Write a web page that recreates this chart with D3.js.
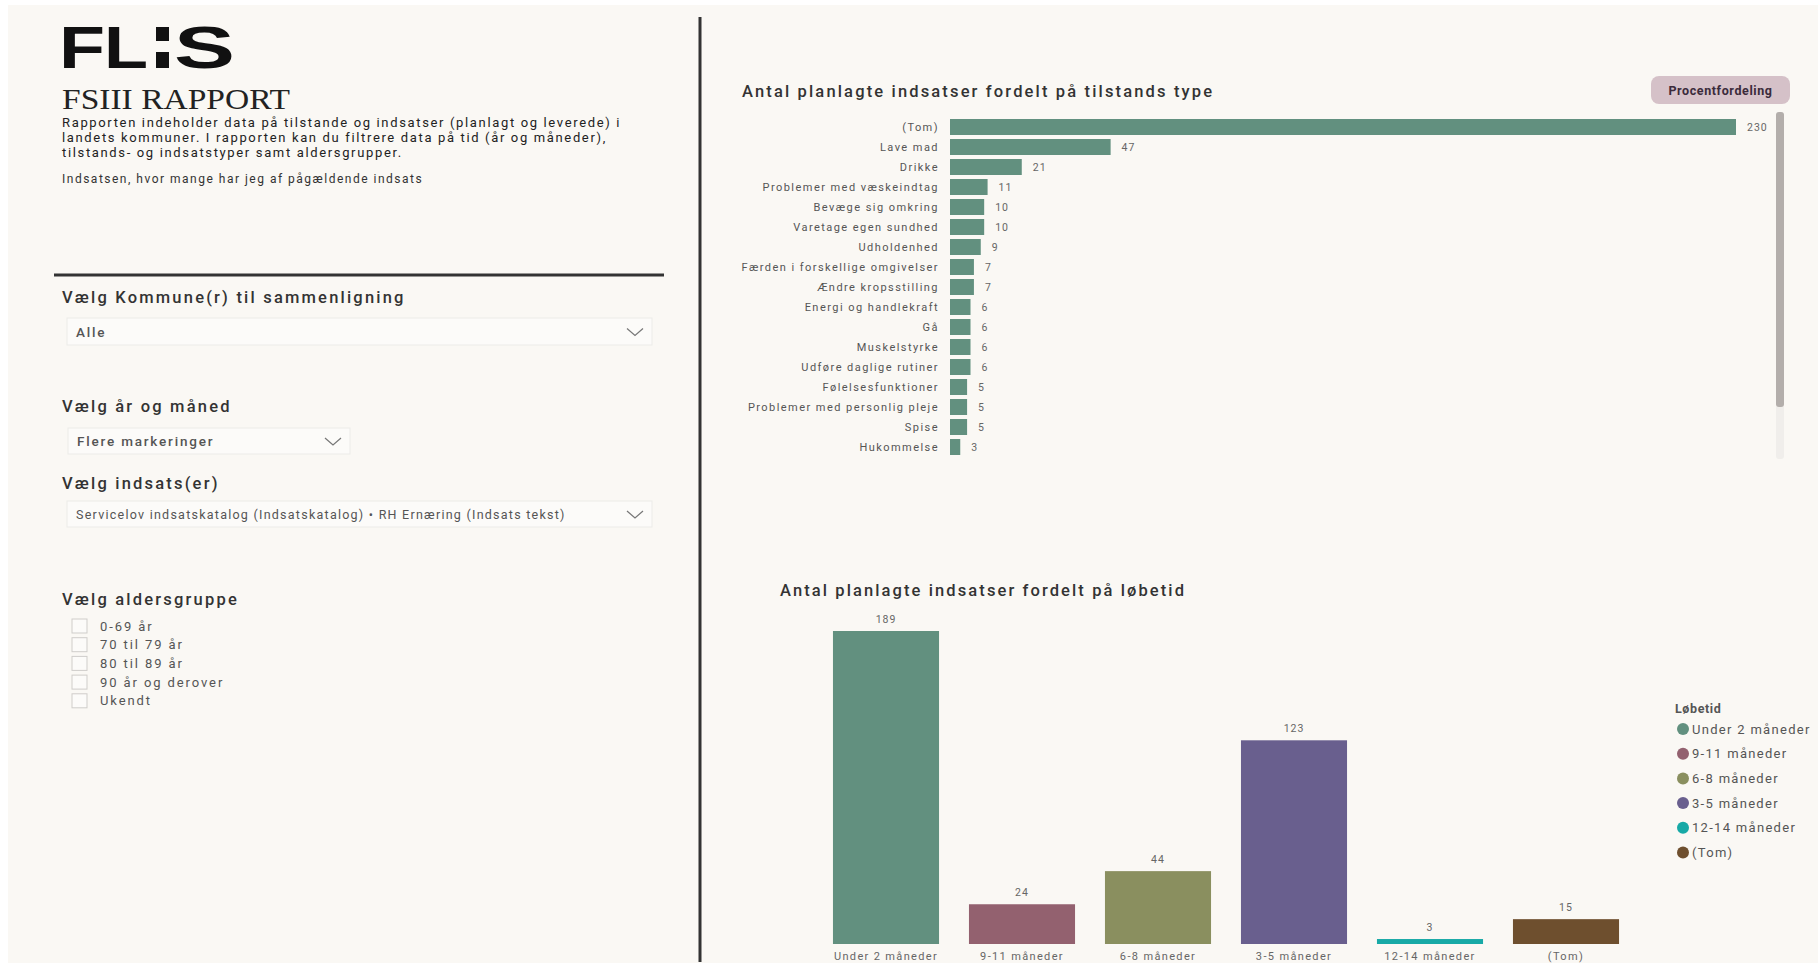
<!DOCTYPE html>
<html lang="da">
<head>
<meta charset="utf-8">
<script src="https://cdn.jsdelivr.net/npm/d3@7"></script>
<style>
  html, body { margin: 0; padding: 0; background: #ffffff; }
  svg { display: block; font-family: Roboto, "Open Sans", sans-serif; }
</style>
</head>
<body>
<svg id="page" width="1818" height="966"></svg>
<script>
// ---- Data -------------------------------------------------------------
const tilstandCategories = [
  "(Tom)", "Lave mad", "Drikke", "Problemer med væskeindtag", "Bevæge sig omkring",
  "Varetage egen sundhed", "Udholdenhed", "Færden i forskellige omgivelser",
  "Ændre kropsstilling", "Energi og handlekraft", "Gå", "Muskelstyrke",
  "Udføre daglige rutiner", "Følelsesfunktioner", "Problemer med personlig pleje",
  "Spise", "Hukommelse"
];
const tilstandValues = [230, 47, 21, 11, 10, 10, 9, 7, 7, 6, 6, 6, 6, 5, 5, 5, 3];

const loebetidCategories = ["Under 2 måneder", "9-11 måneder", "6-8 måneder", "3-5 måneder", "12-14 måneder", "(Tom)"];
const loebetidValues = [189, 24, 44, 123, 3, 15];
const loebetidColors = ["#62907f", "#93616f", "#8a8f5f", "#695f8e", "#17a9a6", "#6e4f2e"];

const ageGroups = ["0-69 år", "70 til 79 år", "80 til 89 år", "90 år og derover", "Ukendt"];

const introLines = [
  "Rapporten indeholder data på tilstande og indsatser (planlagt og leverede) i",
  "landets kommuner. I rapporten kan du filtrere data på tid (år og måneder),",
  "tilstands- og indsatstyper samt aldersgrupper."
];

// ---- Page frame -------------------------------------------------------
const svg = d3.select("#page");
svg.append("rect").attr("x", 8).attr("y", 5).attr("width", 1810).attr("height", 958)
  .attr("fill", "#faf8f4");

// vertical divider and left horizontal rule
svg.append("line").attr("x1", 700).attr("x2", 700).attr("y1", 17).attr("y2", 962)
  .attr("stroke", "#333").attr("stroke-width", 3);
svg.append("line").attr("x1", 54).attr("x2", 664).attr("y1", 275).attr("y2", 275)
  .attr("stroke", "#333").attr("stroke-width", 3);

// ---- Left panel -------------------------------------------------------
const logo = svg.append("g").attr("fill", "#111")
  .style("font-family", "'Liberation Sans', Arial, sans-serif").style("font-weight", 700);
logo.append("text").attr("x", 59).attr("y", 68).text("F")
  .attr("font-size", 60).attr("textLength", 46).attr("lengthAdjust", "spacingAndGlyphs");
logo.append("text").attr("x", 104).attr("y", 68).text("L")
  .attr("font-size", 60).attr("textLength", 44).attr("lengthAdjust", "spacingAndGlyphs");
logo.append("rect").attr("x", 156).attr("y", 27).attr("width", 13).attr("height", 14);
logo.append("rect").attr("x", 156).attr("y", 52).attr("width", 13).attr("height", 16);
logo.append("text").attr("x", 174).attr("y", 68).text("S")
  .attr("font-size", 60).attr("textLength", 61).attr("lengthAdjust", "spacingAndGlyphs");

svg.append("text").attr("x", 62).attr("y", 109).text("FSIII RAPPORT")
  .style("font-family", "'Liberation Serif', 'DejaVu Serif', serif").attr("font-size", 29)
  .attr("textLength", 228).attr("lengthAdjust", "spacingAndGlyphs").attr("fill", "#222");

svg.append("g").selectAll("text").data(introLines).join("text")
  .attr("x", 62).attr("y", (d, i) => 127 + i * 15)
  .attr("font-size", 13).attr("letter-spacing", 1.65).attr("fill", "#222")
  .text(d => d);

svg.append("text").attr("x", 62).attr("y", 183)
  .attr("font-size", 12).attr("letter-spacing", 1.5).attr("fill", "#333")
  .text("Indsatsen, hvor mange har jeg af pågældende indsats");

// slicer headings
const headings = [
  { t: "Vælg Kommune(r) til sammenligning", y: 303 },
  { t: "Vælg år og måned", y: 412 },
  { t: "Vælg indsats(er)", y: 489 },
  { t: "Vælg aldersgruppe", y: 605 }
];
svg.append("g").selectAll("text").data(headings).join("text")
  .attr("x", 62).attr("y", d => d.y)
  .attr("font-size", 16.5).attr("font-weight", 500).attr("letter-spacing", 2.2).attr("fill", "#333")
  .text(d => d.t);

// dropdown boxes
const dropdowns = [
  { t: "Alle", x: 67, y: 318, w: 585, h: 27, big: true },
  { t: "Flere markeringer", x: 68, y: 428, w: 282, h: 26, big: true },
  { t: "Servicelov indsatskatalog (Indsatskatalog) • RH Ernæring (Indsats tekst)", x: 67, y: 501, w: 585, h: 26, big: false }
];
const dd = svg.append("g").selectAll("g").data(dropdowns).join("g");
dd.append("rect").attr("x", d => d.x).attr("y", d => d.y).attr("width", d => d.w).attr("height", d => d.h)
  .attr("fill", "#fcfbf9").attr("stroke", "#ecebe8").attr("stroke-width", 1);
dd.append("text").attr("x", d => d.x + 9).attr("y", d => d.y + d.h / 2 + 5)
  .attr("font-size", d => d.big ? 13.5 : 12.5).attr("font-weight", d => d.big ? 500 : 400)
  .attr("letter-spacing", d => d.big ? 1.8 : 1.25).attr("fill", "#555").text(d => d.t);
dd.append("path")
  .attr("d", d => {
    const cx = d.x + d.w - 17, cy = d.y + d.h / 2;
    return `M${cx - 8},${cy - 3}L${cx},${cy + 4}L${cx + 8},${cy - 3}`;
  })
  .attr("fill", "none").attr("stroke", "#777").attr("stroke-width", 1.2);

// age group checkboxes
const age = svg.append("g").selectAll("g").data(ageGroups).join("g")
  .attr("transform", (d, i) => `translate(72,${619 + i * 18.7})`);
age.append("rect").attr("width", 15).attr("height", 14).attr("fill", "#fcfbf9")
  .attr("stroke", "#cfcdca").attr("stroke-width", 1);
age.append("text").attr("x", 28).attr("y", 11.5).attr("font-size", 13)
  .attr("letter-spacing", 1.9).attr("fill", "#555").text(d => d);

// ---- Chart 1: horizontal bars by tilstands type ----------------------
svg.append("text").attr("x", 742).attr("y", 97)
  .attr("font-size", 16.5).attr("font-weight", 500).attr("letter-spacing", 2.15).attr("fill", "#333")
  .text("Antal planlagte indsatser fordelt på tilstands type");

const x1 = d3.scaleLinear().domain([0, d3.max(tilstandValues)]).range([950, 1736]);
const y1 = d3.scaleBand().domain(tilstandCategories).range([117, 457]).paddingInner(0.2).paddingOuter(0.1);
const rows1 = tilstandCategories.map((c, i) => ({ c, v: tilstandValues[i] }));

const g1 = svg.append("g");
g1.selectAll("rect").data(rows1).join("rect")
  .attr("x", x1(0)).attr("y", d => y1(d.c))
  .attr("width", d => x1(d.v) - x1(0)).attr("height", y1.bandwidth())
  .attr("fill", "#62907f");

const yAxis1 = d3.axisLeft(y1).tickSize(0).tickPadding(11);
const ax1 = svg.append("g").attr("transform", `translate(${x1(0)},0)`).call(yAxis1);
ax1.select(".domain").remove();
ax1.attr("font-family", null);
ax1.selectAll("text").attr("font-size", 11).attr("letter-spacing", 1.45).attr("fill", "#555");

g1.selectAll("text.val").data(rows1).join("text").attr("class", "val")
  .attr("x", d => x1(d.v) + 11).attr("y", d => y1(d.c) + y1.bandwidth() / 2 + 4)
  .attr("font-size", 10.5).attr("letter-spacing", 1).attr("fill", "#666")
  .text(d => d.v);

// scroll bar beside the list
svg.append("rect").attr("x", 1776).attr("y", 112).attr("width", 8).attr("height", 347).attr("rx", 3)
  .attr("fill", "#f0eeeb");
svg.append("rect").attr("x", 1776).attr("y", 112).attr("width", 8).attr("height", 295).attr("rx", 3)
  .attr("fill", "#b3aeab");

// "Procentfordeling" button
svg.append("rect").attr("x", 1651).attr("y", 76).attr("width", 139).attr("height", 28).attr("rx", 8)
  .attr("fill", "#d5c1c8");
svg.append("text").attr("x", 1720.5).attr("y", 95).attr("text-anchor", "middle")
  .attr("font-size", 12.5).attr("font-weight", 700).attr("letter-spacing", 0.6).attr("fill", "#3b2b3b")
  .text("Procentfordeling");

// ---- Chart 2: column chart by løbetid --------------------------------
svg.append("text").attr("x", 780).attr("y", 596)
  .attr("font-size", 16.5).attr("font-weight", 500).attr("letter-spacing", 2.1).attr("fill", "#333")
  .text("Antal planlagte indsatser fordelt på løbetid");

const x2 = d3.scaleBand().domain(loebetidCategories).range([818, 1634]).paddingInner(0.22).paddingOuter(0.11);
const y2 = d3.scaleLinear().domain([0, d3.max(loebetidValues)]).range([944, 631]);
const color2 = d3.scaleOrdinal().domain(loebetidCategories).range(loebetidColors);
const rows2 = loebetidCategories.map((c, i) => ({ c, v: loebetidValues[i] }));

const g2 = svg.append("g");
g2.selectAll("rect").data(rows2).join("rect")
  .attr("x", d => x2(d.c)).attr("y", d => y2(d.v))
  .attr("width", x2.bandwidth()).attr("height", d => y2(0) - y2(d.v))
  .attr("fill", d => color2(d.c));

g2.selectAll("text.val").data(rows2).join("text").attr("class", "val")
  .attr("x", d => x2(d.c) + x2.bandwidth() / 2).attr("y", d => y2(d.v) - 8)
  .attr("text-anchor", "middle").attr("font-size", 10.5).attr("letter-spacing", 1).attr("fill", "#666")
  .text(d => d.v);

const xAxis2 = d3.axisBottom(x2).tickSize(0).tickPadding(8);
const ax2 = svg.append("g").attr("transform", `translate(0,${y2(0)})`).call(xAxis2);
ax2.select(".domain").remove();
ax2.attr("font-family", null);
ax2.selectAll("text").attr("font-size", 11).attr("letter-spacing", 1.35).attr("fill", "#666");

// legend
const legend = svg.append("g").attr("transform", "translate(1675,0)");
legend.append("text").attr("x", 0).attr("y", 713).attr("font-size", 12.5).attr("font-weight", 700)
  .attr("letter-spacing", 0.6).attr("fill", "#555").text("Løbetid");
const li = legend.selectAll("g.item").data(loebetidCategories).join("g").attr("class", "item")
  .attr("transform", (d, i) => `translate(0,${729 + i * 24.7})`);
li.append("circle").attr("cx", 8).attr("cy", 0).attr("r", 6).attr("fill", d => color2(d));
li.append("text").attr("x", 17).attr("y", 4.5).attr("font-size", 13).attr("letter-spacing", 1.3)
  .attr("fill", "#555").text(d => d);
</script>
</body>
</html>
